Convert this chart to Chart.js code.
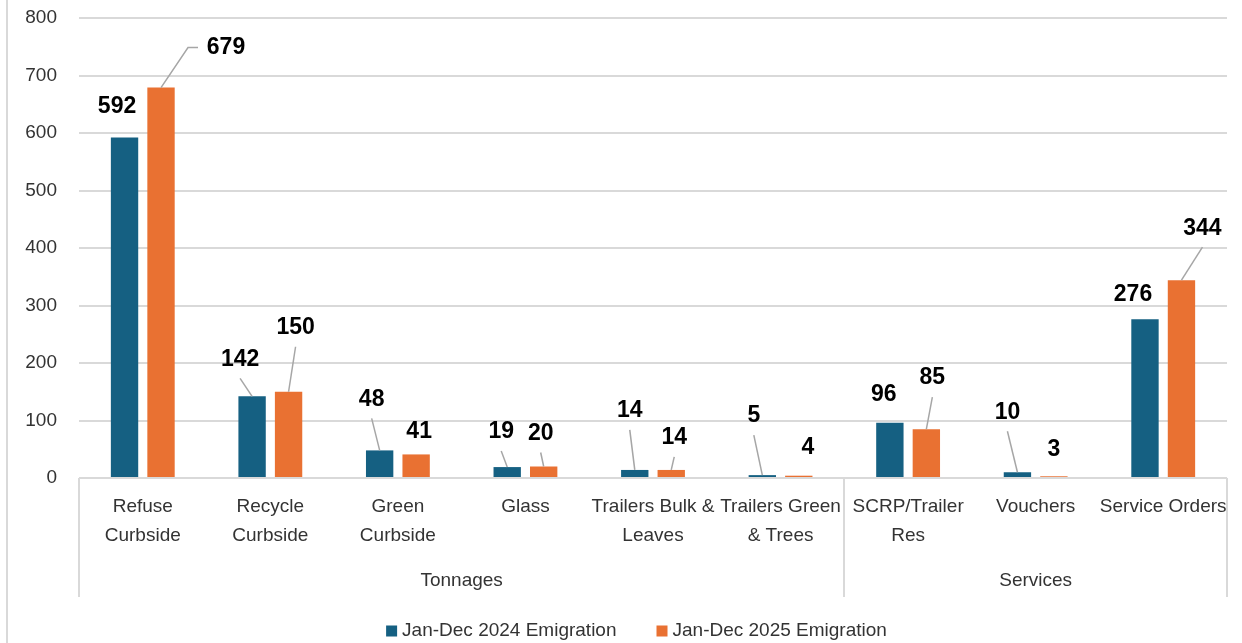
<!DOCTYPE html>
<html><head><meta charset="utf-8">
<script src="https://cdn.jsdelivr.net/npm/chart.js@4/dist/chart.umd.min.js"></script>
<style>html,body{margin:0;padding:0;background:#fff;} canvas{display:block;}</style>
</head><body>
<canvas id="c" width="1242" height="643"></canvas>
<script>
// ---- data ----
const categories = [["Refuse","Curbside"],["Recycle","Curbside"],["Green","Curbside"],["Glass"],["Trailers Bulk &","Leaves"],["Trailers Green","& Trees"],["SCRP/Trailer","Res"],["Vouchers"],["Service Orders"]];
const groupNames = ["Tonnages","Services"];
const groupSizes = [6,3];
const seriesNames = ["Jan-Dec 2024 Emigration","Jan-Dec 2025 Emigration"];
const values2024 = [592,142,48,19,14,5,96,10,276];
const values2025 = [679,150,41,20,14,4,85,3,344];
const yMin = 0, yMax = 800, yStep = 100;

// ---- style ----
const colors = ["#156082","#E97132"];
const gridColor = "#d9d9d9";
const textColor = "#333333";
const catFont = "Liberation Sans, Arial, sans-serif";
// label offsets relative to bar top-centre: [dx, dy, leader type]
const labelOffsets = [
  [[-7.5,-32,0],[-12,-38,1],[-8,-52,1],[-6,-36,1],[-5,-60,1],[-8.5,-60,1],[-6,-29,0],[-10,-61,1],[-12,-26,0]],
  [[65,-41,2],[7,-65,1],[3,-24,0],[-3,-34,1],[3,-33,1],[9,-29,0],[6,-52,1],[0,-28,0],[21,-53,1]]
];

const deco = {
  id: 'deco',
  beforeDraw(chart) {
    const ctx = chart.ctx;
    ctx.save();
    ctx.strokeStyle = gridColor; ctx.lineWidth = 2;
    ctx.beginPath(); ctx.moveTo(7, 0); ctx.lineTo(7, chart.height); ctx.stroke();
    ctx.restore();
  },
  afterDraw(chart) {
    const ctx = chart.ctx, xs = chart.scales.x;
    const n = chart.data.labels.length;
    const w = (xs.right - xs.left) / n;
    ctx.save();
    // group separators
    const bounds = [0]; let acc = 0;
    groupSizes.forEach(s => { acc += s; bounds.push(acc); });
    ctx.strokeStyle = gridColor; ctx.lineWidth = 2;
    bounds.forEach(b => {
      const px = Math.round(xs.left + b * w);
      ctx.beginPath(); ctx.moveTo(px, xs.top); ctx.lineTo(px, xs.top + 119); ctx.stroke();
    });
    ctx.fillStyle = textColor;
    ctx.font = "19px " + catFont;
    ctx.textAlign = 'center'; ctx.textBaseline = 'middle';
    for (let g = 0; g < groupNames.length; g++) {
      const cx = xs.left + (bounds[g] + bounds[g+1]) / 2 * w;
      ctx.fillText(groupNames[g], cx, xs.top + 103);
    }
    // data labels
    ctx.font = "bold 23px Liberation Sans, Arial, sans-serif";
    chart.data.datasets.forEach((ds, i) => {
      const meta = chart.getDatasetMeta(i);
      meta.data.forEach((bar, j) => {
        const [dx, dy, lead] = labelOffsets[i][j];
        const tx = bar.x + dx, ty = bar.y + dy;
        ctx.strokeStyle = '#a6a6a6'; ctx.lineWidth = 1.5;
        if (lead === 1) {
          ctx.beginPath(); ctx.moveTo(bar.x, bar.y); ctx.lineTo(tx, ty + 20); ctx.stroke();
        } else if (lead === 2) {
          ctx.beginPath(); ctx.moveTo(bar.x, bar.y); ctx.lineTo(tx - 38, ty + 1); ctx.lineTo(tx - 28, ty + 1); ctx.stroke();
        }
        ctx.fillStyle = '#000';
        ctx.fillText(String(ds.data[j]), tx, ty + 1);
      });
    });
    // legend
    ctx.font = "19px " + catFont;
    ctx.textAlign = 'left';
    const box = 11, gapBox = 5, gapItem = 40;
    const widths = chart.data.datasets.map(d => box + gapBox + ctx.measureText(d.label).width);
    const total = widths.reduce((a,b)=>a+b,0) + gapItem * (widths.length - 1);
    let lx = 636.5 - total / 2;
    const ly = 631;
    chart.data.datasets.forEach((d, i) => {
      ctx.fillStyle = d.backgroundColor;
      ctx.fillRect(lx, ly - 5.5, box, box);
      ctx.fillStyle = textColor;
      ctx.fillText(d.label, lx + box + gapBox, ly);
      lx += widths[i] + gapItem;
    });
    ctx.restore();
  }
};

new Chart(document.getElementById('c'), {
  type: 'bar',
  data: {
    labels: categories,
    datasets: [
      { label: seriesNames[0], data: values2024, backgroundColor: colors[0] },
      { label: seriesNames[1], data: values2025, backgroundColor: colors[1] }
    ]
  },
  options: {
    responsive: false,
    animation: false,
    devicePixelRatio: 1,
    layout: { padding: { left: 0, right: 15, top: 18, bottom: 0 } },
    datasets: { bar: { categoryPercentage: 0.572, barPercentage: 0.75 } },
    plugins: { legend: { display: false }, tooltip: { enabled: false } },
    scales: {
      x: {
        grid: { display: false, drawTicks: false },
        border: { display: false },
        ticks: {
          autoSkip: false, maxRotation: 0, minRotation: 0,
          color: textColor, padding: 14.5,
          font: { family: catFont, size: 19, lineHeight: '29px' }
        },
        afterFit(s) { s.height = 165; s.paddingLeft = 0; s.paddingRight = 0; }
      },
      y: {
        min: yMin, max: yMax,
        ticks: { stepSize: yStep, color: textColor, padding: 22, font: { family: "Liberation Sans, Arial, sans-serif", size: 19 } },
        grid: { color: gridColor, lineWidth: 2, drawTicks: false },
        border: { display: false },
        afterFit(s) { s.width = 79; s.paddingTop = 0; s.paddingBottom = 0; }
      }
    }
  },
  plugins: [deco]
});
</script>
</body></html>
